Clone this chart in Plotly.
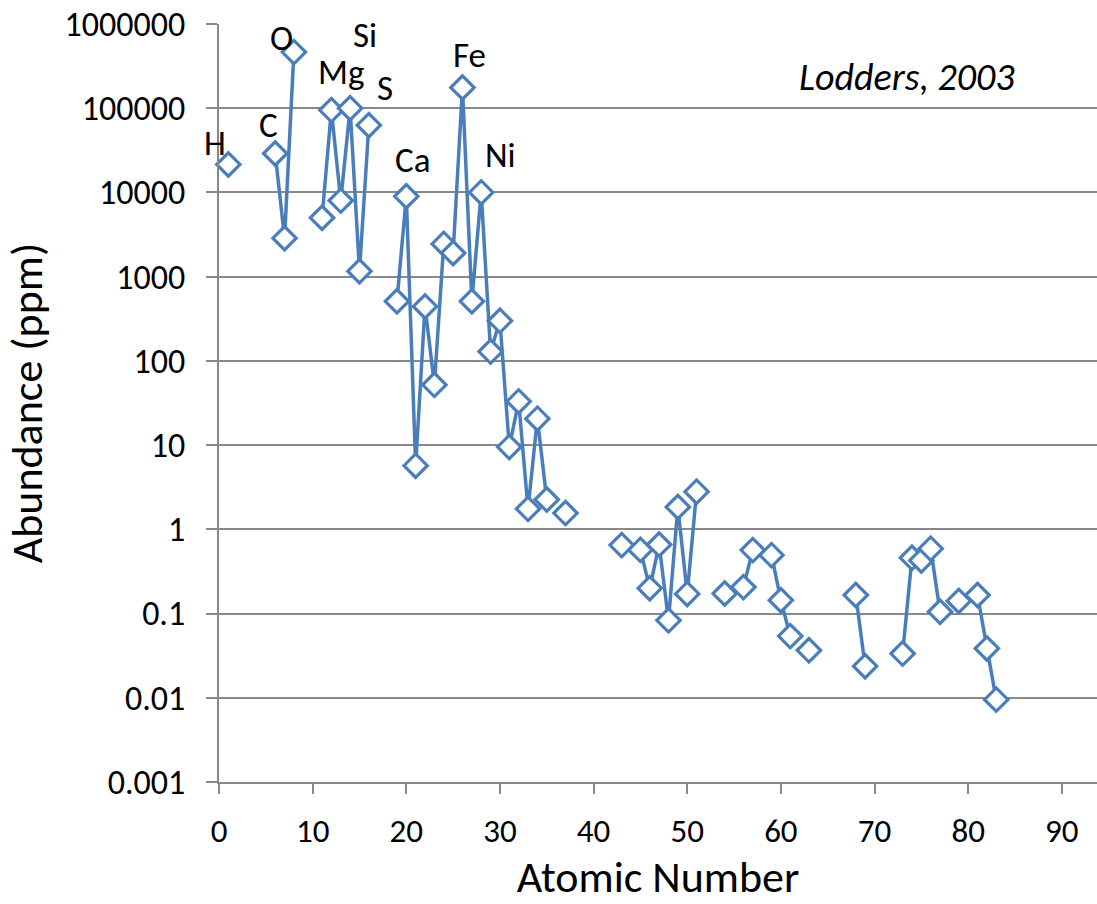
import math
import plotly.graph_objects as go

# ---- data ----
atomic_number = list(range(1, 84))
abundance_ppm = [
    21500, None, None, None, None, 29000, 2860, 464000, None, None,      # 1-10
    5000, 95000, 8000, 100000, 1160, 62800, None, None, 510, 9000,      # 11-20
    5.7, 443, 52, 2450, 1910, 176000, 510, 10000, 129, 299,             # 21-30
    9.5, 33, 1.75, 20.6, 2.26, None, 1.56, None, None, None,            # 31-40
    None, None, 0.65, None, 0.57, 0.20, 0.66, 0.083, 1.84, 0.171,       # 41-50
    2.8, None, None, 0.173, None, 0.206, 0.567, None, 0.494, 0.144,     # 51-60
    0.054, None, 0.0366, None, None, None, None, 0.166, 0.0237, None,   # 61-70
    None, None, 0.0335, 0.459, 0.427, 0.59, 0.105, None, 0.141, None,   # 71-80
    0.166, 0.0385, 0.0095,                                              # 81-83
]
label_elements = ["H", "C", "O", "Mg", "Si", "S", "Ca", "Fe", "Ni"]
label_numbers = [1, 6, 8, 12, 14, 16, 20, 26, 28]
# pixel offsets of each data label from its point (styling only)
label_dx = [-13, -7, -12, 10, 15, 16, 6, 7, 19]
label_dy = [21, 29, 14, 38, 73, 37, 36, 33, 37]

x_ticks = [0, 10, 20, 30, 40, 50, 60, 70, 80, 90]
y_tickvals = [0.001, 0.01, 0.1, 1, 10, 100, 1000, 10000, 100000, 1000000]
y_ticktext = ["0.001", "0.01", "0.1", "1", "10", "100", "1000", "10000", "100000", "1000000"]

BLUE = "#4a7ebb"
GRID = "#898989"
FONT = "Carlito, Calibri, Lato, sans-serif"

fig = go.Figure()
fig.add_trace(go.Scatter(
    x=atomic_number, y=abundance_ppm, mode="lines+markers",
    connectgaps=False,
    line=dict(color=BLUE, width=3.5),
    marker=dict(symbol="diamond", size=18, color="white",
                line=dict(color=BLUE, width=3.2)),
    showlegend=False, cliponaxis=False,
))

for el, z, dx, dy in zip(label_elements, label_numbers, label_dx, label_dy):
    v = abundance_ppm[z - 1]
    fig.add_annotation(x=z, y=math.log10(v), text=el, showarrow=False,
                       xshift=dx, yshift=dy, xanchor="center", yanchor="middle",
                       font=dict(family=FONT, size=35, color="black"))

fig.add_annotation(xref="paper", yref="paper", x=0.7836, y=0.930,
                   text="<i>Lodders, 2003</i>", showarrow=False,
                   xanchor="center", yanchor="middle",
                   font=dict(family=FONT, size=38, color="black"))

fig.update_layout(
    width=1097, height=904,
    margin=dict(l=219, r=0, t=24, b=122),
    paper_bgcolor="white", plot_bgcolor="white",
    font=dict(family=FONT, color="black"),
)
fig.update_xaxes(
    range=[0, 93.76], tickvals=x_ticks, ticks="outside", ticklen=10,
    tickwidth=2, tickcolor=GRID, showline=True, linecolor=GRID, linewidth=2,
    showgrid=False, zeroline=False, tickfont=dict(size=33),
    ticklabelstandoff=8, automargin=False,
    title=dict(text="Atomic Number", font=dict(size=44), standoff=16),
)
fig.update_yaxes(
    type="log", range=[-3, 6], tickvals=y_tickvals, ticktext=y_ticktext,
    ticks="outside", ticklen=11, tickwidth=2, tickcolor=GRID,
    showline=True, linecolor=GRID, linewidth=2,
    showgrid=True, gridcolor=GRID, gridwidth=2, zeroline=False,
    tickfont=dict(size=34), ticklabelstandoff=14, automargin=False,
    title=dict(text="Abundance (ppm)", font=dict(size=44), standoff=14),
)

fig.write_html("out.html", config={"displayModeBar": False},
               post_script="document.body.style.margin='0';document.body.style.overflow='hidden';")
